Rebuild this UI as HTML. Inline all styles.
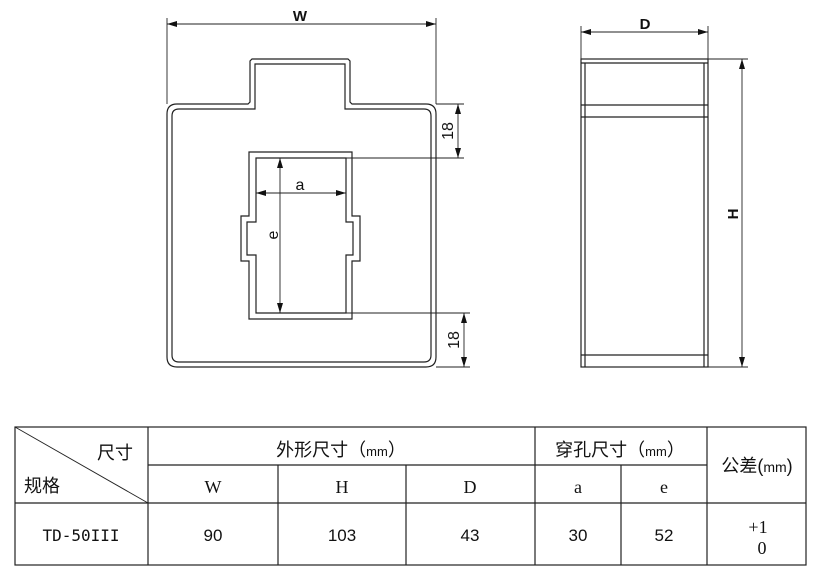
<!DOCTYPE html>
<html><head><meta charset="utf-8"><style>
html,body{margin:0;padding:0;background:#fff;width:824px;height:577px;overflow:hidden}
svg{display:block}
.cj{font-family:"Liberation Sans","Noto Sans CJK SC",sans-serif}
.sf{font-family:"Liberation Serif",serif}
.ss{font-family:"Liberation Sans",sans-serif}
</style></head><body>
<svg width="824" height="577" viewBox="0 0 824 577" xmlns="http://www.w3.org/2000/svg">
<defs>
<marker id="ar" viewBox="0 0 10 6" refX="10" refY="3" markerWidth="10" markerHeight="6" orient="auto-start-reverse" markerUnits="userSpaceOnUse">
<path d="M0,0 L10,3 L0,6 z" fill="#111"/></marker>
</defs>
<g fill="none" stroke="#222" stroke-width="1.2">
<path d="M177,104 L248,104 L250,102 L250,61 L252,59 L348,59 L350,61 L350,102 L352,104 L426,104 Q436,104 436,114 L436,357 Q436,367 426,367 L177,367 Q167,367 167,357 L167,114 Q167,104 177,104 Z"/>
<path d="M179,109 L255,109 L255,64 L345,64 L345,109 L424,109 Q431,109 431,116 L431,355 Q431,362 424,362 L179,362 Q172,362 172,355 L172,116 Q172,109 179,109 Z"/>
<path d="M249,152 L352,152 L352,216 L360,216 L360,261 L352,261 L352,319 L249,319 L249,261 L241,261 L241,216 L249,216 Z"/>
<path d="M256,158 L346,158 L346,222 L353,222 L353,255 L346,255 L346,313 L256,313 L256,255 L247,255 L247,222 L256,222 Z"/>
<rect x="581" y="59" width="127" height="308"/>
<line x1="581" y1="63" x2="708" y2="63"/>
<line x1="581" y1="105" x2="708" y2="105"/>
<line x1="581" y1="117" x2="708" y2="117"/>
<line x1="581" y1="355" x2="708" y2="355"/>
<line x1="585" y1="63" x2="585" y2="367"/>
<line x1="704" y1="63" x2="704" y2="367"/>
</g>
<g fill="none" stroke="#222" stroke-width="0.9">
<line x1="167" y1="18" x2="167" y2="104"/><line x1="436" y1="18" x2="436" y2="104"/>
<line x1="167" y1="24" x2="436" y2="24" marker-start="url(#ar)" marker-end="url(#ar)"/>
<line x1="436" y1="104" x2="464" y2="104"/><line x1="346" y1="158" x2="464" y2="158"/>
<line x1="458" y1="104" x2="458" y2="158" marker-start="url(#ar)" marker-end="url(#ar)"/>
<line x1="346" y1="313" x2="470" y2="313"/><line x1="436" y1="367" x2="470" y2="367"/>
<line x1="464" y1="313" x2="464" y2="367" marker-start="url(#ar)" marker-end="url(#ar)"/>
<line x1="256" y1="193" x2="346" y2="193" marker-start="url(#ar)" marker-end="url(#ar)"/>
<line x1="280" y1="158" x2="280" y2="313" marker-start="url(#ar)" marker-end="url(#ar)"/>
<line x1="581" y1="26" x2="581" y2="59"/><line x1="708" y1="26" x2="708" y2="59"/>
<line x1="581" y1="32" x2="708" y2="32" marker-start="url(#ar)" marker-end="url(#ar)"/>
<line x1="708" y1="59" x2="748" y2="59"/><line x1="708" y1="367" x2="748" y2="367"/>
<line x1="742" y1="59" x2="742" y2="367" marker-start="url(#ar)" marker-end="url(#ar)"/>
</g>
<g class="ss" fill="#111" font-size="15" font-weight="bold">
<text x="300" y="21" text-anchor="middle">W</text>
<text x="645" y="29" text-anchor="middle">D</text>
<text x="300" y="190" text-anchor="middle" font-weight="normal" font-size="16">a</text>
<text transform="translate(453,131) rotate(-90)" text-anchor="middle" font-weight="normal" font-size="16">18</text>
<text transform="translate(459,340) rotate(-90)" text-anchor="middle" font-weight="normal" font-size="16">18</text>
<text transform="translate(278,235) rotate(-90)" text-anchor="middle" font-weight="normal" font-size="16">e</text>
<text transform="translate(738,214) rotate(-90)" text-anchor="middle">H</text>
</g>
<g stroke="#222" stroke-width="1.2" fill="none">
<rect x="15" y="427" width="791" height="138"/>
<line x1="15" y1="503" x2="806" y2="503"/>
<line x1="148" y1="465" x2="707" y2="465"/>
<line x1="148" y1="427" x2="148" y2="565"/>
<line x1="278" y1="465" x2="278" y2="565"/>
<line x1="406" y1="465" x2="406" y2="565"/>
<line x1="535" y1="427" x2="535" y2="565"/>
<line x1="621" y1="465" x2="621" y2="565"/>
<line x1="707" y1="427" x2="707" y2="565"/>
<line x1="15" y1="427" x2="148" y2="503" stroke-width="0.9"/>
</g>
<g class="cj" fill="#111" font-size="18">
<text x="97" y="459">尺寸</text>
<text x="24" y="492">规格</text>
<text x="341" y="456" text-anchor="middle">外形尺寸（<tspan font-size="13">mm</tspan>）</text>
<text x="620" y="456" text-anchor="middle">穿孔尺寸（<tspan font-size="13">mm</tspan>）</text>
<text x="757" y="472" text-anchor="middle">公差(<tspan font-size="14">mm</tspan>)</text>
</g>
<g class="sf" fill="#111" font-size="18" text-anchor="middle">
<text x="213" y="493">W</text>
<text x="342" y="493">H</text>
<text x="470" y="493">D</text>
<text x="578" y="493">a</text>
<text x="664" y="493">e</text>
<text x="758" y="533">+1</text>
<text x="762" y="554">0</text>
</g>
<g class="ss" fill="#111" font-size="17" text-anchor="middle">
<text x="81" y="541" font-family="'DejaVu Sans Mono',monospace" font-size="16">TD-50III</text>
<text x="213" y="541">90</text>
<text x="342" y="541">103</text>
<text x="470" y="541">43</text>
<text x="578" y="541">30</text>
<text x="664" y="541">52</text>
</g>
</svg>
</body></html>
